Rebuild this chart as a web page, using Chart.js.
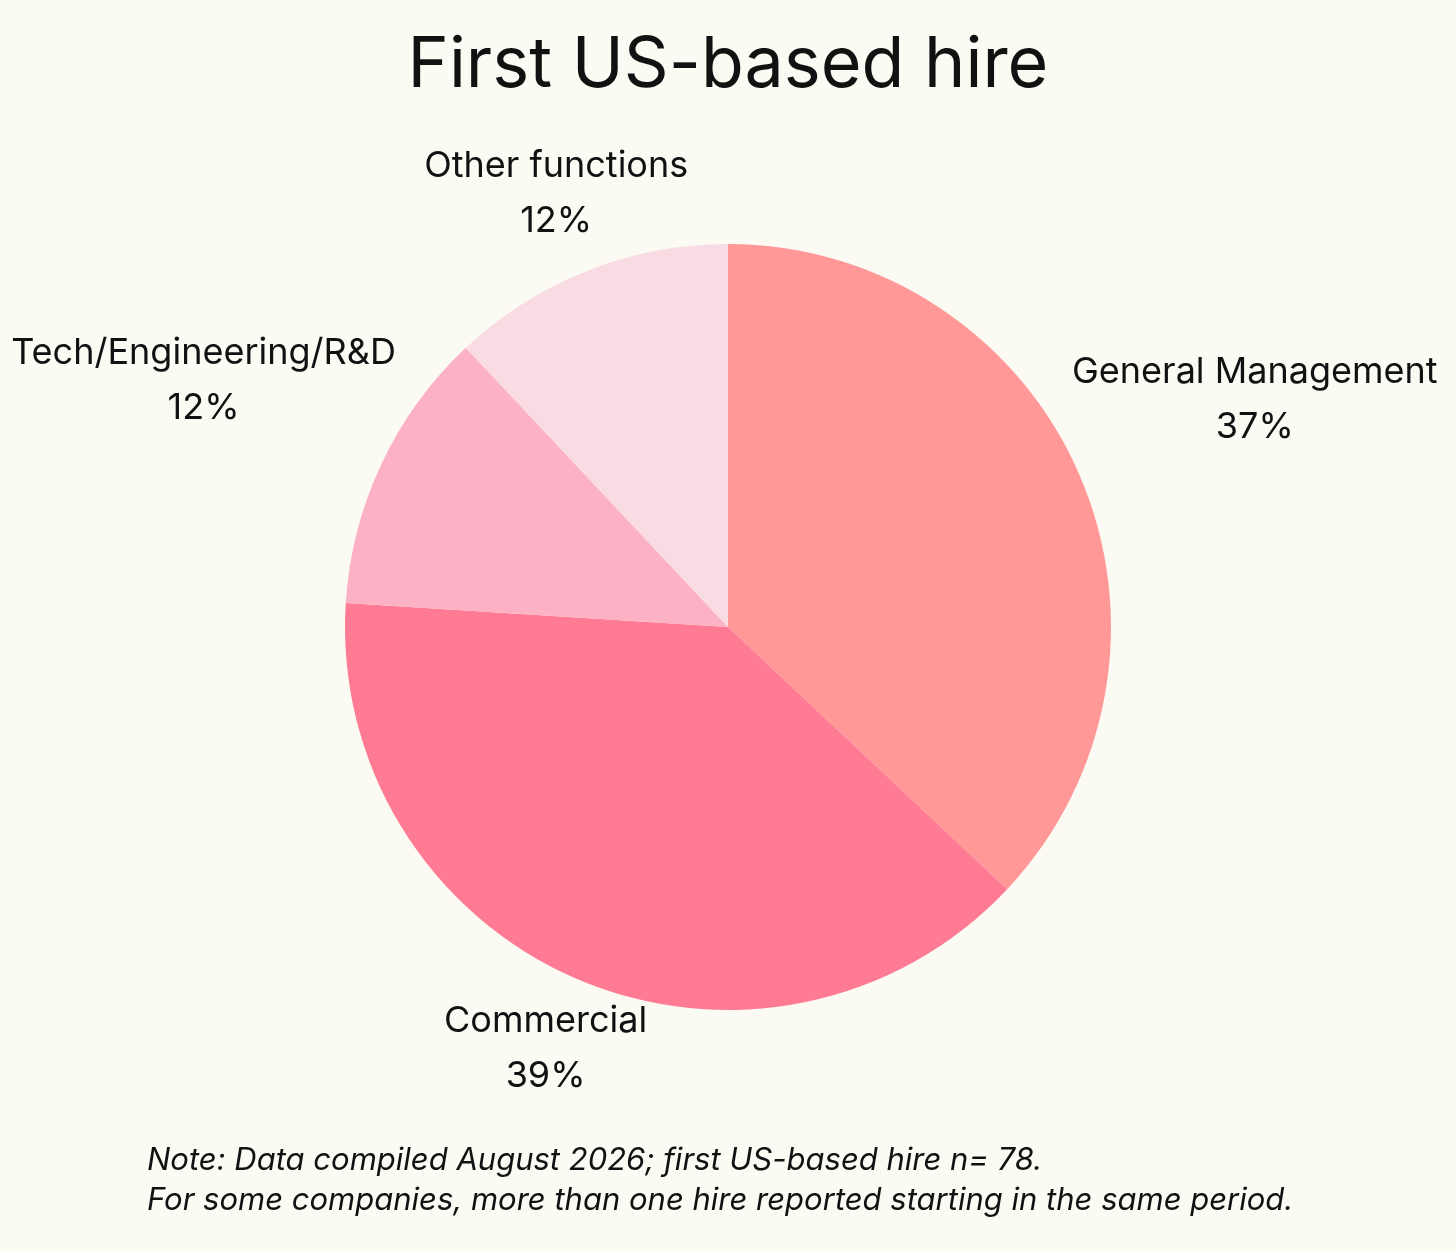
<!DOCTYPE html>
<html>
<head>
<meta charset="utf-8">
<script src="https://cdn.jsdelivr.net/npm/chart.js@4"></script>
<style>
  body { margin: 0; background: #fbfaf3; }
  canvas { display: block; }
</style>
</head>
<body>
<canvas id="pie" width="1456" height="1252"></canvas>
<script>
// Data
const categories = ["General Management", "Commercial", "Tech/Engineering/R&D", "Other functions"];
const shares = [37, 39, 12, 12];
const colors = ["#ff9896", "#ff7a93", "#fdb1c5", "#f9dce3"];
const titleText = "First US-based hire";
const noteLines = [
    "Note: Data compiled August 2026; first US-based hire n= 78.",
    "For some companies, more than one hire reported starting in the same period."
];

// Title, labels and note drawn on top of the pie
const decorations = {
    id: "decorations",
    afterDraw(chart) {
        const ctx = chart.ctx;
        ctx.save();
        ctx.fillStyle = "#111";
        ctx.textAlign = "center";
        ctx.textBaseline = "middle";
        ctx.font = "70px Inter, 'Open Sans', sans-serif";
        ctx.fillText(titleText, 728, 66);

        ctx.font = "36px Inter, 'Open Sans', sans-serif";
        const arcs = chart.getDatasetMeta(0).data;
        arcs.forEach((arc, i) => {
            const mid = (arc.startAngle + arc.endAngle) / 2;
            const halfW = ctx.measureText(categories[i]).width / 2;
            const dist = arc.outerRadius + 40 + halfW * Math.abs(Math.cos(mid)) * 0.9;
            const x = arc.x + Math.cos(mid) * dist;
            const y = arc.y + Math.sin(mid) * dist;
            ctx.fillText(categories[i], x, y - 27);
            ctx.fillText(shares[i] + "%", x, y + 28);
        });

        ctx.textAlign = "left";
        ctx.font = "italic 31px Inter, 'Open Sans', sans-serif";
        noteLines.forEach((line, i) => ctx.fillText(line, 147, 1161 + i * 40));
        ctx.restore();
    }
};

new Chart(document.getElementById("pie"), {
    type: "pie",
    data: {
        labels: categories,
        datasets: [{
            data: shares,
            backgroundColor: colors,
            borderWidth: 0
        }]
    },
    options: {
        responsive: false,
        animation: false,
        layout: { padding: { top: 244, bottom: 242, left: 0, right: 0 } },
        plugins: {
            legend: { display: false },
            tooltip: { enabled: false }
        }
    },
    plugins: [decorations]
});
</script>
</body>
</html>
